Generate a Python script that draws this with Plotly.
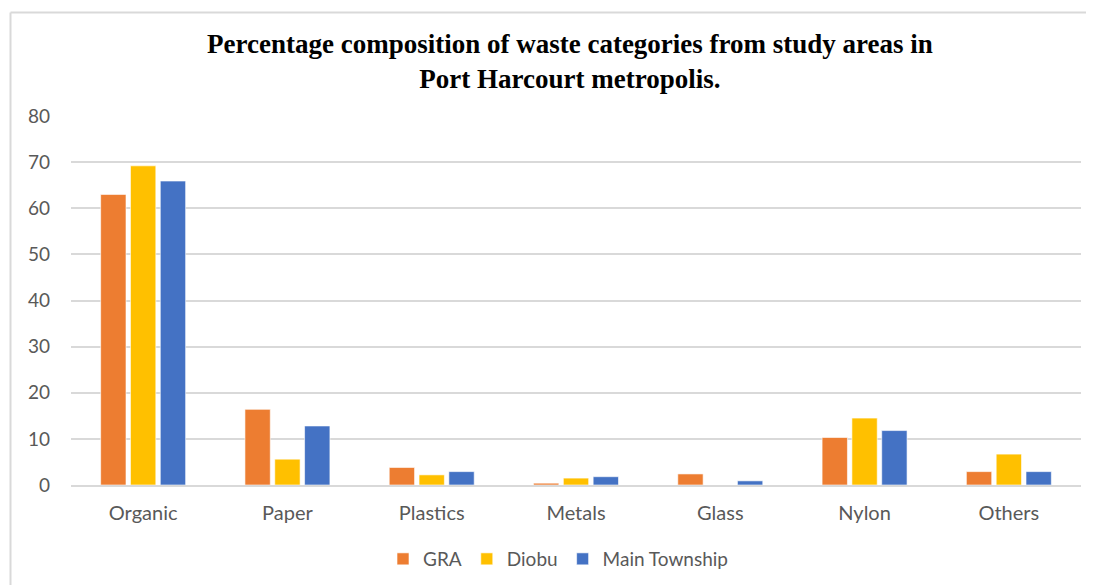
import plotly.graph_objects as go

categories = ["Organic", "Paper", "Plastics", "Metals", "Glass", "Nylon", "Others"]
gra = [63.0, 16.4, 3.8, 0.4, 2.4, 10.3, 2.9]
diobu = [69.2, 5.6, 2.2, 1.5, 0.0, 14.5, 6.7]
main_township = [65.9, 12.8, 2.9, 1.8, 0.9, 11.8, 2.9]
series_names = ["GRA", "Diobu", "Main Township"]
colors = ["#ED7D31", "#FFC000", "#4472C4"]
y_ticks = [0, 10, 20, 30, 40, 50, 60, 70, 80]

fig = go.Figure()
for name, vals, col in zip(series_names, [gra, diobu, main_township], colors):
    fig.add_trace(go.Bar(x=categories, y=vals, name=name,
                         marker=dict(color=col, line=dict(color="rgba(255,255,255,0.6)", width=1))))

# page body has an 8px margin, so the figure is drawn 8px in from the window edge
OFF = 8
W, H = 1094 - OFF, 585 - OFF
L, R, T, B = 71 - OFF, 13, 116 - OFF, 100
pw, ph = W - L - R, H - T - B

def px(x):  # page pixel -> paper x
    return (x - OFF - L) / pw

def py(y):  # page pixel -> paper y
    return (H - B - (y - OFF)) / ph

border = "#D9D9D9"
fig.update_layout(
    width=W, height=H,
    margin=dict(l=L, r=R, t=T, b=B, autoexpand=False),
    paper_bgcolor="white", plot_bgcolor="white",
    barmode="group", bargap=0.38, bargroupgap=0.15,
    font=dict(family="Lato, Open Sans, sans-serif", color="#595959", size=18),
    showlegend=True,
    legend=dict(orientation="h", x=px(558), y=py(559), xanchor="center", yanchor="middle",
                font=dict(size=19, color="#595959"), itemwidth=30, traceorder="normal"),
    shapes=[
        dict(type="line", xref="paper", yref="paper", x0=px(10.5), x1=px(1094), y0=py(12.5), y1=py(12.5),
             line=dict(color=border, width=2)),
        dict(type="line", xref="paper", yref="paper", x0=px(10.5), x1=px(10.5), y0=py(12.5), y1=py(585),
             line=dict(color=border, width=2)),
    ],
    annotations=[
        dict(text="<b>Percentage composition of waste categories from study areas in<br>Port Harcourt metropolis.</b>",
             xref="paper", yref="paper", x=px(570), y=py(61.5), xanchor="center", yanchor="middle",
             showarrow=False, font=dict(family="Liberation Serif, Times New Roman, serif", size=27, color="black")),
    ],
)
fig.update_xaxes(showgrid=False, showline=True, linecolor="#D9D9D9", linewidth=2, ticks="",
                 tickfont=dict(size=20, color="#595959"), ticklabelstandoff=9, automargin=False)
fig.update_yaxes(range=[0, 80], tickvals=y_ticks, showgrid=True, gridcolor="#D9D9D9", gridwidth=2,
                 zeroline=False, showline=False, ticks="", tickfont=dict(size=19, color="#595959"),
                 ticklabelstandoff=20, automargin=False)

fig.write_html("out.html")
